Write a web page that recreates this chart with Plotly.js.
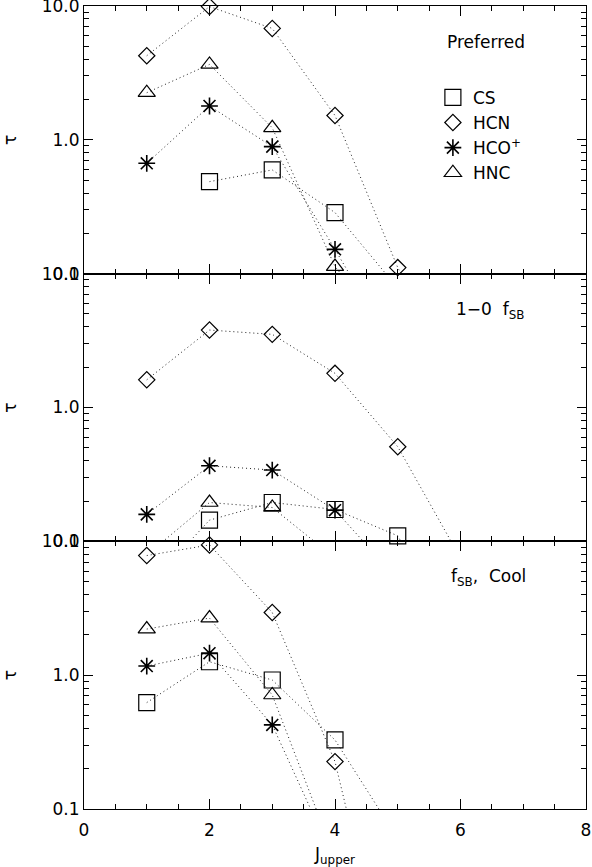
<!DOCTYPE html>
<html>
<head>
<meta charset="utf-8">
<script src="https://cdn.plot.ly/plotly-3.0.1.min.js"></script>
<style>html,body{margin:0;padding:0;background:#fff;}#chart{width:592px;height:867px;}</style>
</head>
<body>
<div id="chart"></div>
<script>
// ---- data (tau vs J_upper) ----
const J = [1, 2, 3, 4, 5, 6];
const species = ['CS', 'HCN', 'HCO<sup>+</sup>', 'HNC'];
const panelLabels = ['Preferred', '1\u22120&nbsp; f<sub>SB</sub>', 'f<sub>SB</sub>,&nbsp; Cool'];
const yMinorTicks = [0.2, 0.3, 0.4, 0.5, 0.6, 0.7, 0.8, 0.9, 2, 3, 4, 5, 6, 7, 8, 9];

// Panel 1: Preferred
const pref_CS   = [null, 0.487, 0.596, 0.286, 0.078, null];
const pref_HCN  = [4.25, 9.9, 6.8, 1.52, 0.111, 0.015];
const pref_HCOp = [0.668, 1.79, 0.89, 0.152, 0.024, null];
const pref_HNC  = [2.25, 3.66, 1.23, 0.113, 0.03, null];

// Panel 2: 1-0 fSB
const fsb_CS    = [0.045, 0.144, 0.195, 0.173, 0.110, 0.016];
const fsb_HCN   = [1.61, 3.79, 3.52, 1.80, 0.509, 0.075];
const fsb_HCOp  = [0.159, 0.367, 0.341, 0.171, 0.052, null];
const fsb_HNC   = [0.079, 0.195, 0.179, 0.075, null, null];

// Panel 3: fSB, Cool
const cool_CS   = [0.624, 1.26, 0.92, 0.328, 0.06, null];
const cool_HCN  = [7.83, 9.4, 2.94, 0.226, 0.0025, null];
const cool_HCOp = [1.17, 1.46, 0.425, 0.04, null, null];
const cool_HNC  = [2.21, 2.67, 0.711, 0.043, null, null];

const panels = [
  [pref_CS, pref_HCN, pref_HCOp, pref_HNC],
  [fsb_CS, fsb_HCN, fsb_HCOp, fsb_HNC],
  [cool_CS, cool_HCN, cool_HCOp, cool_HNC]
];

// ---- styles ----
const FONT = 'DejaVu Sans, Liberation Sans, sans-serif';
const symbols = ['square-open', 'diamond-open', 'asterisk-open', 'triangle-up-open'];
const msizes = [16, 12.5, 14, 15];
const mwidths = [1.2, 1.2, 1.6, 1.2];
const YMIN = 0.1, YMAX = 10.3;

const traces = [];
panels.forEach((series, p) => {
  const xa = p === 0 ? 'x' : 'x' + (p + 1);
  const ya = p === 0 ? 'y' : 'y' + (p + 1);
  series.forEach((vals, s) => {
    traces.push({
      x: J, y: vals, xaxis: xa, yaxis: ya, type: 'scatter', mode: 'lines',
      line: {color: '#222', width: 1, dash: '1px,3px'},
      showlegend: false, hoverinfo: 'skip'
    });
    const mx = [], my = [];
    vals.forEach((v, i) => { if (v !== null && v >= YMIN * 0.97 && v <= YMAX) { mx.push(J[i]); my.push(v); } });
    traces.push({
      x: mx, y: my, xaxis: xa, yaxis: ya, type: 'scatter', mode: 'markers',
      name: species[s], showlegend: p === 0, cliponaxis: false,
      marker: {symbol: symbols[s], size: msizes[s], color: '#000',
               line: {color: '#000', width: mwidths[s]}}
    });
  });
});

const xBase = {
  range: [0, 8], dtick: 2, tick0: 0, ticks: 'inside', ticklen: 10, tickwidth: 1,
  tickcolor: '#000', showline: true, linecolor: '#000', linewidth: 1,
  mirror: 'ticks', showgrid: false, zeroline: false, ticklabelstandoff: 6,
  ticklabeloverflow: 'allow',
  minor: {dtick: 0.5, tick0: 0, ticks: 'inside', ticklen: 5, tickcolor: '#000', tickwidth: 1, showgrid: false},
  tickfont: {family: FONT, size: 17, color: '#000'}
};
const yBase = {
  type: 'log', range: [-1, 1], dtick: 1, tickformat: '.1f', ticks: 'inside', ticklen: 9,
  tickwidth: 1, tickcolor: '#000', showline: true, linecolor: '#000', linewidth: 1,
  mirror: 'ticks', showgrid: false, zeroline: false, ticklabeloverflow: 'allow',
  minor: {tickmode: 'array', tickvals: yMinorTicks, ticks: 'inside', ticklen: 5, tickcolor: '#000', tickwidth: 1, showgrid: false},
  tickfont: {family: FONT, size: 17, color: '#000'},
  title: {text: '\u03c4', font: {family: FONT, size: 17, color: '#000'}, standoff: 23}
};

const domains = [[2/3, 1], [1/3, 2/3], [0, 1/3]];
const layout = {
  width: 592, height: 867,
  margin: {l: 84, r: 6, t: 6, b: 58},
  paper_bgcolor: '#fff', plot_bgcolor: '#fff',
  font: {family: FONT, size: 17, color: '#000'},
  showlegend: true,
  legend: {x: 0.695, y: 0.908, xanchor: 'left', yanchor: 'top', bgcolor: 'rgba(0,0,0,0)',
           font: {family: FONT, size: 17, color: '#000'}, tracegroupgap: 0},
  annotations: []
};
const annY = [0.955, 0.621, 0.288];
const annX = [0.719, 0.737, 0.727];
for (let p = 0; p < 3; p++) {
  const xk = p === 0 ? 'xaxis' : 'xaxis' + (p + 1);
  const yk = p === 0 ? 'yaxis' : 'yaxis' + (p + 1);
  layout[xk] = Object.assign({}, xBase, {anchor: p === 0 ? 'y' : 'y' + (p + 1), showticklabels: p === 2});
  if (p === 2) layout[xk].title = {text: 'J<sub>upper</sub>', font: {family: FONT, size: 17, color: '#000'}, standoff: 10};
  layout[yk] = Object.assign({}, yBase, {domain: domains[p], anchor: p === 0 ? 'x' : 'x' + (p + 1)});
  layout.annotations.push({text: panelLabels[p], xref: 'paper', yref: 'paper', x: annX[p], y: annY[p],
    xanchor: 'left', yanchor: 'middle', showarrow: false, font: {family: FONT, size: 17, color: '#000'}});
}

Plotly.newPlot('chart', traces, layout, {displayModeBar: false, staticPlot: true});
</script>
</body>
</html>
